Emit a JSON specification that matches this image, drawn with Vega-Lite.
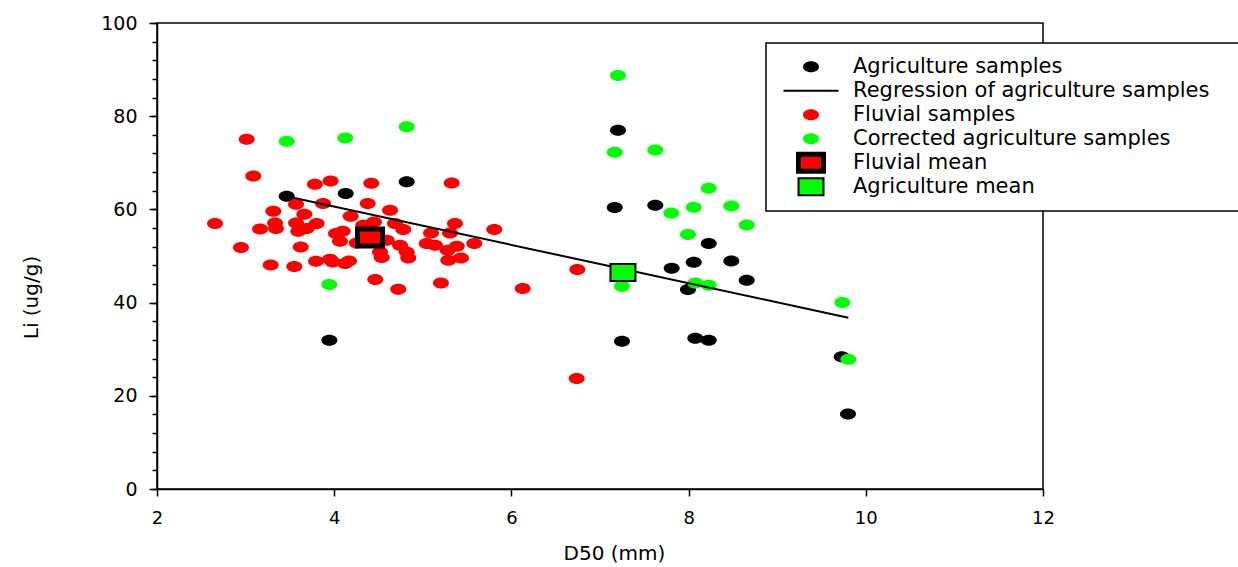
{
  "$schema": "https://vega.github.io/schema/vega-lite/v6.json",
  "width": 886,
  "height": 466,
  "autosize": "none",
  "padding": {"left": 157, "top": 23, "right": 195, "bottom": 78},
  "background": "white",
  "config": {
    "view": {"stroke": "black", "strokeWidth": 1.5},
    "axis": {"grid": false}
  },
  "resolve": {"axis": {"y": "independent"}},
  "datasets": {
    "samples": [
      {"series": "Agriculture samples", "d50": 3.464, "li": 62.81},
      {"series": "Agriculture samples", "d50": 4.130, "li": 63.39},
      {"series": "Agriculture samples", "d50": 4.818, "li": 65.96},
      {"series": "Agriculture samples", "d50": 3.945, "li": 31.94},
      {"series": "Agriculture samples", "d50": 7.203, "li": 76.96},
      {"series": "Agriculture samples", "d50": 7.166, "li": 60.39},
      {"series": "Agriculture samples", "d50": 7.624, "li": 60.88},
      {"series": "Agriculture samples", "d50": 8.227, "li": 52.67},
      {"series": "Agriculture samples", "d50": 7.809, "li": 47.37},
      {"series": "Agriculture samples", "d50": 8.058, "li": 48.66},
      {"series": "Agriculture samples", "d50": 8.482, "li": 48.94},
      {"series": "Agriculture samples", "d50": 8.656, "li": 44.80},
      {"series": "Agriculture samples", "d50": 7.993, "li": 42.81},
      {"series": "Agriculture samples", "d50": 7.248, "li": 31.73},
      {"series": "Agriculture samples", "d50": 8.076, "li": 32.37},
      {"series": "Agriculture samples", "d50": 8.227, "li": 31.94},
      {"series": "Agriculture samples", "d50": 9.728, "li": 28.36},
      {"series": "Agriculture samples", "d50": 9.799, "li": 16.08},
      {"series": "Fluvial samples", "d50": 3.012, "li": 75.03},
      {"series": "Fluvial samples", "d50": 3.087, "li": 67.16},
      {"series": "Fluvial samples", "d50": 2.655, "li": 56.96},
      {"series": "Fluvial samples", "d50": 2.948, "li": 51.81},
      {"series": "Fluvial samples", "d50": 3.283, "li": 48.08},
      {"series": "Fluvial samples", "d50": 3.550, "li": 47.74},
      {"series": "Fluvial samples", "d50": 3.313, "li": 59.59},
      {"series": "Fluvial samples", "d50": 3.332, "li": 57.08},
      {"series": "Fluvial samples", "d50": 3.163, "li": 55.80},
      {"series": "Fluvial samples", "d50": 3.343, "li": 55.88},
      {"series": "Fluvial samples", "d50": 3.569, "li": 61.09},
      {"series": "Fluvial samples", "d50": 3.663, "li": 58.95},
      {"series": "Fluvial samples", "d50": 3.569, "li": 57.08},
      {"series": "Fluvial samples", "d50": 3.595, "li": 55.31},
      {"series": "Fluvial samples", "d50": 3.690, "li": 55.88},
      {"series": "Fluvial samples", "d50": 3.802, "li": 56.96},
      {"series": "Fluvial samples", "d50": 3.622, "li": 51.94},
      {"series": "Fluvial samples", "d50": 3.783, "li": 65.38},
      {"series": "Fluvial samples", "d50": 3.960, "li": 66.09},
      {"series": "Fluvial samples", "d50": 3.874, "li": 61.24},
      {"series": "Fluvial samples", "d50": 3.795, "li": 48.87},
      {"series": "Fluvial samples", "d50": 3.953, "li": 49.30},
      {"series": "Fluvial samples", "d50": 3.983, "li": 48.73},
      {"series": "Fluvial samples", "d50": 4.122, "li": 48.38},
      {"series": "Fluvial samples", "d50": 4.167, "li": 48.94},
      {"series": "Fluvial samples", "d50": 4.020, "li": 54.81},
      {"series": "Fluvial samples", "d50": 4.096, "li": 55.31},
      {"series": "Fluvial samples", "d50": 4.065, "li": 53.16},
      {"series": "Fluvial samples", "d50": 4.186, "li": 58.52},
      {"series": "Fluvial samples", "d50": 4.419, "li": 65.59},
      {"series": "Fluvial samples", "d50": 4.378, "li": 61.24},
      {"series": "Fluvial samples", "d50": 4.328, "li": 56.59},
      {"series": "Fluvial samples", "d50": 4.449, "li": 57.30},
      {"series": "Fluvial samples", "d50": 4.254, "li": 52.80},
      {"series": "Fluvial samples", "d50": 4.630, "li": 59.81},
      {"series": "Fluvial samples", "d50": 4.593, "li": 53.38},
      {"series": "Fluvial samples", "d50": 4.517, "li": 50.87},
      {"series": "Fluvial samples", "d50": 4.536, "li": 49.67},
      {"series": "Fluvial samples", "d50": 4.686, "li": 56.96},
      {"series": "Fluvial samples", "d50": 4.780, "li": 55.67},
      {"series": "Fluvial samples", "d50": 4.743, "li": 52.30},
      {"series": "Fluvial samples", "d50": 4.818, "li": 50.87},
      {"series": "Fluvial samples", "d50": 4.836, "li": 49.58},
      {"series": "Fluvial samples", "d50": 4.464, "li": 44.95},
      {"series": "Fluvial samples", "d50": 4.723, "li": 42.87},
      {"series": "Fluvial samples", "d50": 5.326, "li": 65.66},
      {"series": "Fluvial samples", "d50": 5.363, "li": 56.96},
      {"series": "Fluvial samples", "d50": 5.093, "li": 54.94},
      {"series": "Fluvial samples", "d50": 5.307, "li": 54.94},
      {"series": "Fluvial samples", "d50": 5.044, "li": 52.67},
      {"series": "Fluvial samples", "d50": 5.138, "li": 52.30},
      {"series": "Fluvial samples", "d50": 5.383, "li": 52.09},
      {"series": "Fluvial samples", "d50": 5.281, "li": 51.23},
      {"series": "Fluvial samples", "d50": 5.288, "li": 49.09},
      {"series": "Fluvial samples", "d50": 5.431, "li": 49.58},
      {"series": "Fluvial samples", "d50": 5.581, "li": 52.67},
      {"series": "Fluvial samples", "d50": 5.807, "li": 55.67},
      {"series": "Fluvial samples", "d50": 5.205, "li": 44.22},
      {"series": "Fluvial samples", "d50": 6.127, "li": 43.02},
      {"series": "Fluvial samples", "d50": 6.744, "li": 47.10},
      {"series": "Fluvial samples", "d50": 6.737, "li": 23.73},
      {"series": "Corrected agriculture samples", "d50": 3.464, "li": 74.60},
      {"series": "Corrected agriculture samples", "d50": 4.125, "li": 75.31},
      {"series": "Corrected agriculture samples", "d50": 4.818, "li": 77.75},
      {"series": "Corrected agriculture samples", "d50": 3.945, "li": 43.88},
      {"series": "Corrected agriculture samples", "d50": 7.203, "li": 88.75},
      {"series": "Corrected agriculture samples", "d50": 7.166, "li": 72.24},
      {"series": "Corrected agriculture samples", "d50": 7.624, "li": 72.73},
      {"series": "Corrected agriculture samples", "d50": 8.227, "li": 64.52},
      {"series": "Corrected agriculture samples", "d50": 7.805, "li": 59.23},
      {"series": "Corrected agriculture samples", "d50": 8.058, "li": 60.45},
      {"series": "Corrected agriculture samples", "d50": 8.482, "li": 60.73},
      {"series": "Corrected agriculture samples", "d50": 8.656, "li": 56.66},
      {"series": "Corrected agriculture samples", "d50": 7.993, "li": 54.60},
      {"series": "Corrected agriculture samples", "d50": 7.248, "li": 43.52},
      {"series": "Corrected agriculture samples", "d50": 8.076, "li": 44.22},
      {"series": "Corrected agriculture samples", "d50": 8.227, "li": 43.73},
      {"series": "Corrected agriculture samples", "d50": 9.735, "li": 40.02},
      {"series": "Corrected agriculture samples", "d50": 9.803, "li": 27.87}
    ],
    "regression": [
      {"d50": 3.538, "li": 62.5},
      {"d50": 9.803, "li": 36.76}
    ],
    "means": [
      {"series": "Fluvial mean", "d50": 4.404, "li": 53.96},
      {"series": "Agriculture mean", "d50": 7.259, "li": 46.45}
    ]
  },
  "layer": [
    {
      "data": {"name": "samples"},
      "mark": {"type": "point", "filled": true, "opacity": 1, "size": 625, "strokeWidth": 0},
      "encoding": {
        "x": {
          "field": "d50", "type": "quantitative",
          "scale": {"domain": [2, 12], "nice": false, "zero": false},
          "axis": {
            "values": [2, 4, 6, 8, 10, 12],
            "format": "d",
            "title": "D50 (mm)",
            "titleFont": "DejaVu Sans", "titleFontSize": 20, "titleFontWeight": "normal", "titleColor": "black",
            "titleX": 457, "titleY": 64, "titleBaseline": "middle", "titleAlign": "center",
            "labelFont": "DejaVu Sans", "labelFontSize": 18, "labelColor": "black",
            "labelPadding": 13, "labelFlush": false, "labelOverlap": false,
            "tickSize": 7, "tickColor": "black", "tickWidth": 1.5,
            "domainColor": "black", "domainWidth": 1.5
          }
        },
        "y": {
          "field": "li", "type": "quantitative",
          "scale": {"domain": [0, 100], "nice": false, "zero": true},
          "axis": {
            "orient": "left",
            "values": [0, 20, 40, 60, 80, 100],
            "title": "Li (ug/g)",
            "titleFont": "DejaVu Sans", "titleFontSize": 20, "titleFontWeight": "normal", "titleColor": "black",
            "titleX": -126, "titleY": 274, "titleBaseline": "middle", "titleAlign": "center",
            "labelFont": "DejaVu Sans", "labelFontSize": 19, "labelColor": "black",
            "labelPadding": 12, "labelFlush": false, "labelOverlap": false,
            "tickSize": 8, "tickColor": "black", "tickWidth": 1.5,
            "domainColor": "black", "domainWidth": 1.5
          }
        },
        "color": {
          "field": "series", "type": "nominal", "title": null,
          "scale": {
            "domain": ["Agriculture samples", "Regression of agriculture samples", "Fluvial samples", "Corrected agriculture samples", "Fluvial mean", "Agriculture mean"],
            "range": ["#000000", "#000000", "#ff0000", "#00ff00", "#ff0000", "#00ff00"]
          },
          "legend": {
            "orient": "none", "legendX": 609, "legendY": 20,
            "padding": 12,
            "strokeColor": "black", "fillColor": "white",
            "labelFont": "DejaVu Sans", "labelFontSize": 21, "labelColor": "black", "labelLimit": 0,
            "labelExpr": "datum.label + '\u2800\u2800'",
            "symbolSize": 625, "symbolOffset": 22.5, "labelOffset": 31.5, "rowPadding": 0,
            "clipHeight": 23.4,
            "symbolOpacity": 1,
            "encode": {
              "legend": {"update": {"strokeWidth": {"value": 1.5}}},
              "symbols": {"update": {
                "stroke": {"value": "black"},
                "strokeWidth": {"signal": "datum.value === 'Fluvial mean' ? 5 : (datum.value === 'Agriculture mean' || datum.value === 'Regression of agriculture samples') ? 2 : 0"}
              }}
            }
          }
        },
        "shape": {
          "field": "series", "type": "nominal", "title": null,
          "scale": {
            "domain": ["Agriculture samples", "Regression of agriculture samples", "Fluvial samples", "Corrected agriculture samples", "Fluvial mean", "Agriculture mean"],
            "range": [
              "M-0.64,0A0.64,0.44,0,1,0,0.64,0A0.64,0.44,0,1,0,-0.64,0Z",
              "M-2.2,0L2.2,0",
              "M-0.64,0A0.64,0.44,0,1,0,0.64,0A0.64,0.44,0,1,0,-0.64,0Z",
              "M-0.64,0A0.64,0.44,0,1,0,0.64,0A0.64,0.44,0,1,0,-0.64,0Z",
              "M-1,-0.68L1,-0.68L1,0.68L-1,0.68Z",
              "M-1,-0.68L1,-0.68L1,0.68L-1,0.68Z"
            ]
          }
        }
      }
    },
    {
      "data": {"name": "regression"},
      "mark": {"type": "line", "color": "black", "strokeWidth": 2},
      "encoding": {
        "x": {"field": "d50", "type": "quantitative"},
        "y": {
          "field": "li", "type": "quantitative",
          "axis": {
            "orient": "left",
            "values": [0, 4, 8, 12, 16, 20, 24, 28, 32, 36, 40, 44, 48, 52, 56, 60, 64, 68, 72, 76, 80, 84, 88, 92, 96, 100],
            "labels": false, "title": null, "domain": false,
            "tickSize": 5, "tickColor": "black", "tickWidth": 1.5
          }
        }
      }
    },
    {
      "data": {"name": "means"},
      "mark": {"type": "point", "filled": true, "opacity": 1, "size": 625, "stroke": "black"},
      "encoding": {
        "x": {"field": "d50", "type": "quantitative"},
        "y": {"field": "li", "type": "quantitative", "axis": null},
        "color": {"field": "series", "type": "nominal", "legend": null},
        "shape": {"field": "series", "type": "nominal", "legend": null},
        "strokeWidth": {"condition": {"test": "datum.series === 'Fluvial mean'", "value": 5}, "value": 2}
      }
    }
  ]
}
